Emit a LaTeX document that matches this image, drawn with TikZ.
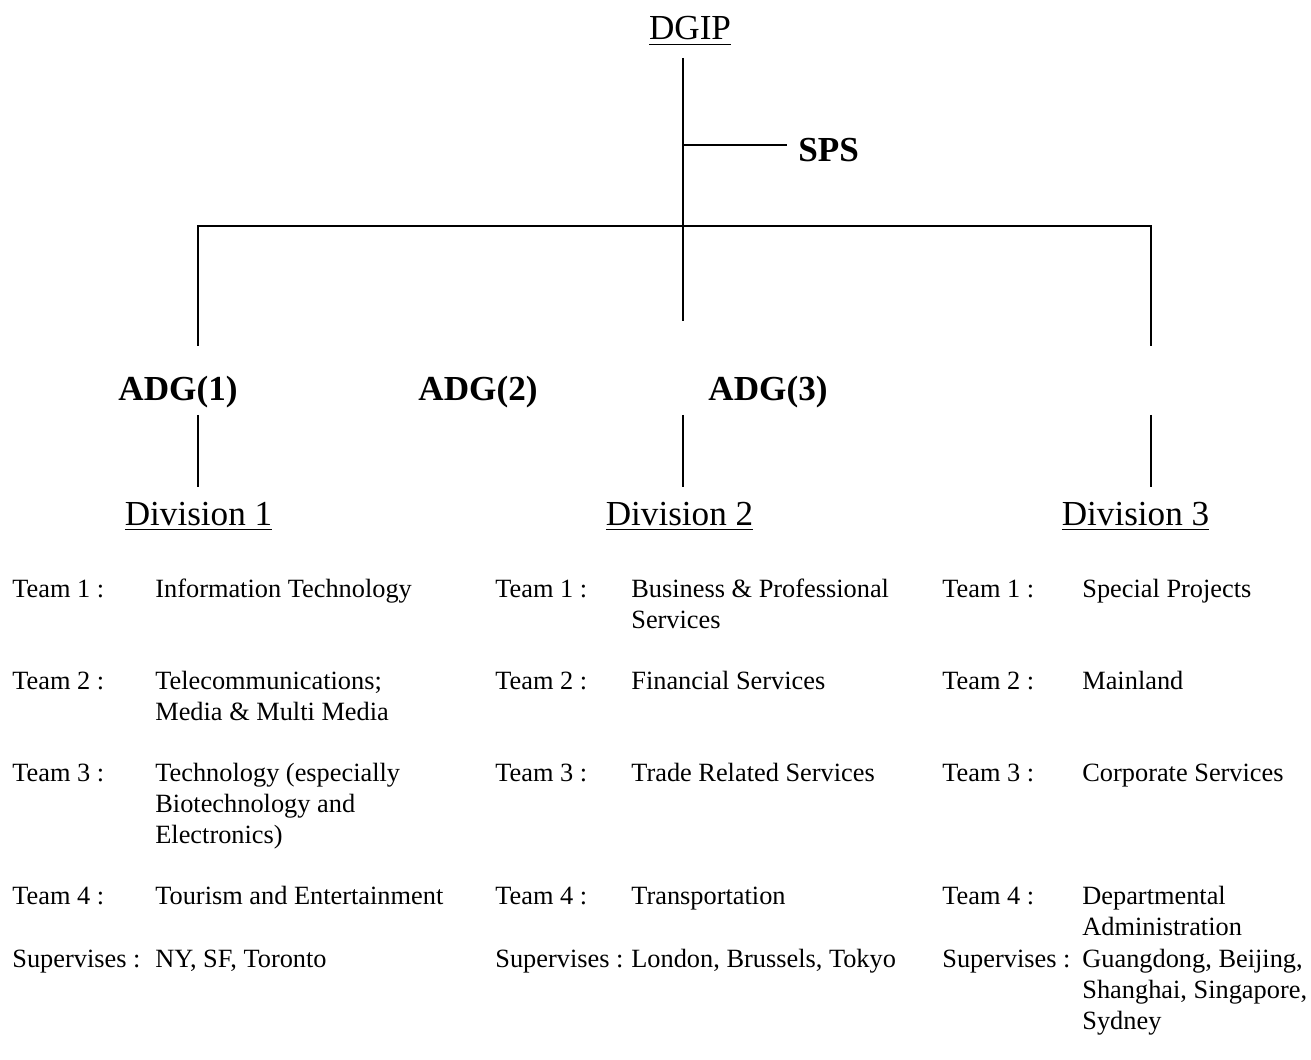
\documentclass[tikz,border=0pt]{standalone}
\usepackage{fontspec}
\setmainfont{Liberation Serif}
\usetikzlibrary{positioning}

% underlined heading text
\newcommand{\ulabel}[1]{\setbox0\hbox{#1}\rlap{\rule[-3pt]{\wd0}{0.9pt}}\box0}
% several lines, baseline on the first one
\newcommand{\teamlines}[1]{\begin{tabular}[t]{@{}l@{}}#1\end{tabular}}

\tikzset{
    orgline/.style={line width=1.1pt},
    head/.style={font=\fontsize{20}{24}\selectfont, inner sep=0pt, anchor=base},
    boss/.style={font=\fontsize{20}{24}\selectfont\bfseries, inner sep=0pt, anchor=base},
    team/.style={font=\fontsize{15}{17.8}\selectfont, inner sep=0pt, anchor=base west}
}

\begin{document}
\begin{tikzpicture}[x=0.02cm, y=-0.02cm]
    \useasboundingbox (0,0) rectangle (1311,1060);

    % Row baselines and columns of the team lists
    \def\rA{597} \def\rB{689} \def\rC{781} \def\rD{904} \def\rE{967}
    \def\la{12} \def\da{155} % Division 1
    \def\lb{495} \def\db{631} % Division 2
    \def\lc{942} \def\dc{1082} % Division 3

    % Heads
    \node[head] (dgip) at (690,40) {\ulabel{DGIP}};
    \node[boss, anchor=base west] (sps) at (798,162) {SPS};
    \node[boss] (adg1) at (178,401) {ADG(1)};
    \node[boss] (adg2) at (478,401) {ADG(2)};
    \node[boss] (adg3) at (768,401) {ADG(3)};
    \node[head] (div1) at (198.5,525) {\ulabel{Division 1}};
    \node[head] (div2) at (679.5,525) {\ulabel{Division 2}};
    \node[head] (div3) at (1135.5,525) {\ulabel{Division 3}};

    % Line ends
    \coordinate (top) at (683,58);
    \coordinate (mid) at (683,321);
    \coordinate (spsjoin) at (683,145);
    \coordinate (spsend) at (787,145);
    \coordinate (barL) at (198,226);
    \coordinate (barR) at (1151,226);
    \coordinate (dropL) at (198,346);
    \coordinate (dropR) at (1151,346);
    \coordinate (up1) at (198,415);
    \coordinate (up2) at (683,415);
    \coordinate (up3) at (1151,415);
    \coordinate (down1) at (198,487);
    \coordinate (down2) at (683,487);
    \coordinate (down3) at (1151,487);

    % Draw tree
    \draw[orgline] (top) -- (mid);
    \draw[orgline] (spsjoin) -- (spsend);
    \draw[orgline] (dropL) -- (barL) -- (barR) -- (dropR);
    \draw[orgline] (up1) -- (down1);
    \draw[orgline] (up2) -- (down2);
    \draw[orgline] (up3) -- (down3);

    % Division 1 teams
    \node[team] (t1a) at (\la,\rA) {Team 1 :};
    \node[team] (d1a) at (\da,\rA) {Information Technology};
    \node[team] (t1b) at (\la,\rB) {Team 2 :};
    \node[team] (d1b) at (\da,\rB) {\teamlines{Telecommunications;\\Media \& Multi Media}};
    \node[team] (t1c) at (\la,\rC) {Team 3 :};
    \node[team] (d1c) at (\da,\rC) {\teamlines{Technology (especially\\Biotechnology and\\Electronics)}};
    \node[team] (t1d) at (\la,\rD) {Team 4 :};
    \node[team] (d1d) at (\da,\rD) {Tourism and Entertainment};
    \node[team] (t1e) at (\la,\rE) {Supervises :};
    \node[team] (d1e) at (\da,\rE) {NY, SF, Toronto};

    % Division 2 teams
    \node[team] (t2a) at (\lb,\rA) {Team 1 :};
    \node[team] (d2a) at (\db,\rA) {\teamlines{Business \& Professional\\Services}};
    \node[team] (t2b) at (\lb,\rB) {Team 2 :};
    \node[team] (d2b) at (\db,\rB) {Financial Services};
    \node[team] (t2c) at (\lb,\rC) {Team 3 :};
    \node[team] (d2c) at (\db,\rC) {Trade Related Services};
    \node[team] (t2d) at (\lb,\rD) {Team 4 :};
    \node[team] (d2d) at (\db,\rD) {Transportation};
    \node[team] (t2e) at (\lb,\rE) {Supervises :};
    \node[team] (d2e) at (\db,\rE) {London, Brussels, Tokyo};

    % Division 3 teams
    \node[team] (t3a) at (\lc,\rA) {Team 1 :};
    \node[team] (d3a) at (\dc,\rA) {Special Projects};
    \node[team] (t3b) at (\lc,\rB) {Team 2 :};
    \node[team] (d3b) at (\dc,\rB) {Mainland};
    \node[team] (t3c) at (\lc,\rC) {Team 3 :};
    \node[team] (d3c) at (\dc,\rC) {Corporate Services};
    \node[team] (t3d) at (\lc,\rD) {Team 4 :};
    \node[team] (d3d) at (\dc,\rD) {\teamlines{Departmental\\Administration}};
    \node[team] (t3e) at (\lc,\rE) {Supervises :};
    \node[team] (d3e) at (\dc,\rE) {\teamlines{Guangdong, Beijing,\\Shanghai, Singapore,\\Sydney}};
\end{tikzpicture}
\end{document}
